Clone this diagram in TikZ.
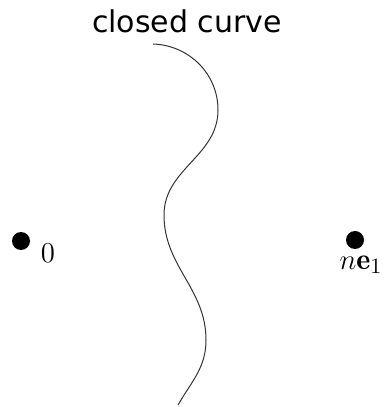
\documentclass[tikz,border=0pt]{standalone}
\usepackage{fontspec}
\setsansfont{DejaVu Sans}
\usetikzlibrary{positioning}

\begin{document}
\begin{tikzpicture}[
  x=0.5pt, y=0.5pt,
  font=\fontsize{15}{17}\selectfont,
  pt/.style={circle, fill=black, inner sep=0pt, minimum size=9pt},
  lbl/.style={inner sep=0pt},
  curve/.style={draw=black!80, line width=0.5pt},
]
\useasboundingbox (0,0) rectangle (384,407);

% title
\node[font=\sffamily\fontsize{15}{18}\selectfont] (title) at (187,386) {closed curve};

% points
\node[pt] (origin) at (21,166) {};
\node[pt] (far) at (355,167) {};
\node[lbl, right=5pt of origin, yshift=-6pt] (originlbl) {$0$};
\node[lbl, below=3pt of far, xshift=3pt] (farlbl) {$n\mathbf{e}_1$};

% the curve
\coordinate (c0) at (153,363);
\coordinate (c1) at (218,297);
\coordinate (c2) at (164,192);
\coordinate (c3) at (206,67);
\coordinate (c4) at (178,2);
\draw[curve] (c0) to[out=-2,in=90] (c1)
  to[out=-90,in=90] (c2)
  to[out=-90,in=90] (c3)
  to[out=-90,in=60] (c4);

\end{tikzpicture}
\end{document}
